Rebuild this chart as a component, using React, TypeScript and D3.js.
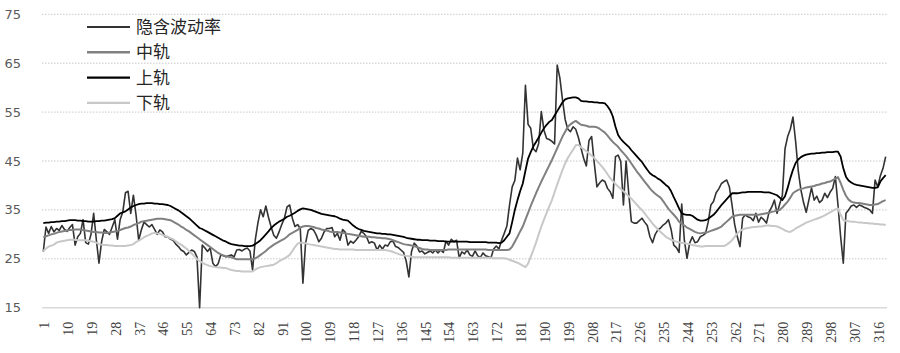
import { useEffect, useRef } from "react";
import * as d3 from "d3";

// 隐含波动率 with its band (中轨 / 上轨 / 下轨), one value per trading day
const impliedVol = [
  26.5, 31.5, 30.2, 31.6, 30.5, 31.2, 30.8, 31.8, 31.0, 30.6,
  31.4, 32.0, 27.8, 29.5, 30.2, 33.0, 28.3, 28.0, 30.0, 34.3,
  29.0, 24.1, 28.5, 31.0, 30.5, 30.0, 31.5, 33.0, 29.0, 33.0,
  34.6, 38.5, 38.8, 34.3, 38.0, 34.0, 28.8, 30.9, 32.5, 32.0,
  31.5, 32.0, 31.0, 30.0, 30.9, 30.5, 29.5, 29.5, 29.0, 28.8,
  28.0, 27.5, 26.8, 26.5, 25.8, 26.3, 26.8, 26.5, 25.4, 15.0,
  27.8, 27.2, 26.5, 27.2, 24.1, 23.4, 24.0, 25.8, 25.6, 25.4,
  25.6, 25.8, 25.4, 26.8, 26.9, 26.6, 27.0, 27.2, 26.6, 22.7,
  28.8, 32.3, 35.0, 33.6, 35.8, 33.5, 31.5, 29.8, 29.2, 30.5,
  32.0, 33.3, 35.6, 36.0, 33.3, 31.6, 32.0, 31.2, 20.0, 28.2,
  30.8, 31.2, 30.9, 29.9, 28.5, 29.2, 30.5, 31.2, 31.2, 31.4,
  29.5, 30.2, 28.8, 31.0, 30.4, 27.8, 28.6, 28.2, 28.8, 29.5,
  30.6, 30.2, 29.5, 28.2, 28.5, 28.2, 26.8, 27.8, 27.0, 27.8,
  27.6, 28.5, 28.6, 27.5, 27.3, 26.8, 26.3, 24.5, 21.3, 26.5,
  28.2, 27.6, 26.4, 26.6, 26.0, 26.3, 26.6, 26.2, 26.8, 26.2,
  26.8, 26.3, 28.6, 27.8, 29.0, 28.5, 28.8, 25.2, 26.4, 26.0,
  26.8, 25.8, 25.5, 26.6, 25.6, 25.3, 26.2, 25.6, 25.4,
  25.2, 27.0, 27.6, 27.0, 28.8, 30.2, 31.7, 36.0, 39.7, 41.0,
  45.6, 43.2, 46.6, 60.5, 52.5, 51.7, 47.5, 46.9, 48.6, 55.1,
  51.3, 49.6, 49.4, 49.0, 48.5, 64.6, 62.0, 57.5, 53.5, 51.5,
  51.0, 52.0, 51.5, 49.8, 47.6, 45.5, 44.0, 49.2, 50.0, 44.5,
  39.7, 40.5, 41.1, 40.8, 39.4, 38.7, 37.4, 45.9, 46.2, 44.9,
  36.0, 45.0, 38.4, 32.6, 32.3, 32.3, 32.8, 33.3, 32.5, 31.8,
  29.5, 28.3, 30.0, 30.9, 31.3, 31.9, 32.3, 33.0, 31.0, 27.8,
  27.3, 26.3, 36.2, 28.8, 25.1, 28.2, 29.5, 28.3, 28.5, 29.5,
  29.8, 30.2, 32.5, 36.0, 36.7, 38.5, 39.3, 40.4, 40.8, 41.1,
  39.7, 36.0, 32.0, 29.5, 27.5, 33.3, 34.0, 33.6, 33.4, 32.8,
  34.3, 32.5, 33.5, 33.0, 32.3, 34.6, 35.6, 37.0, 34.3, 36.2,
  38.0, 47.5, 50.0, 51.5, 54.0, 49.0, 43.0, 39.1, 36.5, 34.5,
  37.0, 39.5, 37.0, 37.8, 36.5, 37.0, 38.4, 37.5, 38.6, 39.4,
  41.8, 36.0, 29.5, 24.1, 34.3, 35.0, 35.8, 36.0, 35.5, 36.0,
  35.8, 35.5, 35.3, 35.0, 34.3, 41.1, 39.7, 42.0, 43.5, 45.9,
];

const midBand = [
  29.4, 29.6, 29.8, 30.0, 30.1, 30.3, 30.5, 30.6, 30.7, 30.8,
  30.9, 30.9, 31.0, 31.0, 31.0, 30.9, 30.8, 30.7, 30.6, 30.5,
  30.5, 30.4, 30.4, 30.3, 30.3, 30.4, 30.5, 30.6, 30.7, 30.9,
  31.1, 31.3, 31.4, 31.6, 31.9, 32.1, 32.3, 32.6, 32.7, 32.8,
  32.9, 33.0, 33.1, 33.2, 33.2, 33.2, 33.1, 33.0, 32.9, 32.6,
  32.3, 32.0, 31.6, 31.3, 30.9, 30.6, 30.2, 29.8, 29.4, 29.0,
  28.6, 28.2, 27.8, 27.4, 27.0, 26.6, 26.2, 25.9, 25.7, 25.5,
  25.4, 25.3, 25.1, 24.9, 24.9, 24.9, 24.9, 24.9, 24.9, 24.9,
  25.1, 25.4, 25.8, 26.2, 26.6, 27.1, 27.5, 27.9, 28.2, 28.5,
  28.8, 29.1, 29.5, 30.0, 30.3, 30.6, 30.9, 31.4, 31.6, 31.7,
  31.7, 31.6, 31.5, 31.3, 31.2, 31.0, 30.9, 30.8, 30.6, 30.5,
  30.5, 30.5, 30.4, 30.3, 30.2, 30.1, 30.0, 29.9, 29.8, 29.7,
  29.6, 29.5, 29.5, 29.5, 29.4, 29.4, 29.3, 29.3, 29.2, 29.2,
  29.1, 29.0, 28.8, 28.6, 28.4, 28.2, 28.0, 27.9, 27.8, 27.7,
  27.6, 27.4, 27.2, 27.0, 26.9, 26.9, 26.8, 26.8, 26.8, 26.8,
  26.8, 26.8, 26.8, 26.9, 26.9, 26.9, 26.9, 26.9, 26.9, 26.9,
  26.9, 26.9, 26.9, 26.9, 26.9, 26.9, 26.9, 26.9, 26.8,
  26.8, 26.8, 26.8, 26.8, 26.8, 26.8, 26.8, 26.9, 27.5, 28.5,
  29.5, 30.6, 31.6, 33.0, 34.4, 35.8, 37.1, 38.4, 39.6, 40.8,
  41.9, 43.0, 44.1, 45.2, 46.4, 47.6, 48.8, 50.0, 51.0, 52.0,
  52.5, 52.9, 53.2, 52.8, 52.4, 52.3, 52.2, 52.0, 52.0, 52.0,
  51.9, 51.6, 51.2, 50.8, 50.2, 49.5, 48.9, 48.4, 47.9, 47.2,
  46.6, 46.0, 45.3, 44.5, 43.7, 42.9, 42.2, 41.5, 40.8, 40.1,
  39.4, 38.8, 38.3, 37.9, 37.5, 36.8, 36.0, 35.2, 34.6, 34.0,
  33.4, 32.6, 32.2, 31.8, 31.4, 31.1, 30.8, 30.5, 30.3, 30.2,
  30.3, 30.4, 30.5, 30.7, 30.9, 31.1, 31.3, 31.6, 32.1, 32.6,
  33.1, 33.6, 33.8, 33.9, 34.0, 34.0, 34.0, 34.0, 34.0, 34.0,
  34.0, 34.0, 34.1, 34.2, 34.3, 34.4, 34.6, 34.7, 34.9, 35.0,
  35.5, 36.1, 36.7, 37.5, 38.4, 38.8, 39.1, 39.3, 39.4, 39.6,
  39.7, 39.8, 39.9, 40.1, 40.2, 40.4, 40.5, 40.7, 40.8, 41.1,
  41.4, 41.7, 40.5, 39.1, 37.9, 37.1, 36.7, 36.5, 36.4, 36.4,
  36.3, 36.2, 36.1, 36.0, 36.0, 36.1, 36.2, 36.5, 36.8, 37.0,
];

const upperBand = [
  32.3, 32.4, 32.4, 32.5, 32.5, 32.6, 32.6, 32.7, 32.7, 32.8,
  32.9, 32.9, 32.9, 32.8, 32.8, 32.7, 32.7, 32.6, 32.6, 32.6,
  32.7, 32.7, 32.8, 32.8, 32.9, 33.0, 33.1, 33.3, 33.8, 34.3,
  34.5, 34.7, 35.1, 35.5, 35.8, 36.0, 36.2, 36.3, 36.3, 36.4,
  36.4, 36.4, 36.3, 36.3, 36.2, 36.2, 36.1, 36.0, 35.8, 35.5,
  35.2, 34.9, 34.5, 34.1, 33.7, 33.3, 32.8, 32.3, 31.8, 31.3,
  31.1, 30.8, 30.5, 30.2, 29.9, 29.6, 29.3, 29.0, 28.7, 28.5,
  28.2, 28.0, 27.9, 27.8, 27.7, 27.7, 27.6, 27.6, 27.6, 27.7,
  28.0, 28.4, 28.8, 29.4, 30.0, 30.6, 31.3, 31.8, 32.2, 32.6,
  32.9, 33.2, 33.6, 33.8, 34.1, 34.4, 34.8, 35.1, 35.3, 35.2,
  35.1, 35.0, 34.8, 34.6, 34.4, 34.2, 34.1, 34.0, 33.9, 33.8,
  33.7, 33.5, 33.2, 33.0, 32.9, 32.8, 32.3, 31.8, 31.4, 31.1,
  30.9, 30.7, 30.6, 30.5, 30.4, 30.3, 30.2, 30.2, 30.1, 30.1,
  30.0, 30.0, 29.9, 29.8, 29.7, 29.6, 29.5, 29.3, 29.2, 29.1,
  29.0, 28.9, 28.9, 28.8, 28.8, 28.8, 28.7, 28.7, 28.7, 28.6,
  28.6, 28.6, 28.5, 28.5, 28.5, 28.5, 28.5, 28.5, 28.5, 28.5,
  28.5, 28.4, 28.4, 28.4, 28.4, 28.4, 28.4, 28.4, 28.3,
  28.3, 28.3, 28.3, 28.2, 28.3, 28.8, 29.5, 30.2, 32.5, 35.0,
  37.0, 38.8, 40.4, 43.0, 45.5, 46.8, 48.0, 48.9, 49.8, 50.8,
  51.7, 52.4, 53.0, 53.4, 54.3, 55.2, 56.1, 57.0, 57.6, 57.8,
  57.9, 58.0, 58.0, 57.8, 57.3, 57.2, 57.2, 57.1, 57.1, 57.0,
  57.0, 56.9, 56.9, 56.8, 56.2, 55.4, 54.1, 52.0, 50.3, 49.5,
  48.9, 48.4, 47.9, 47.2, 46.6, 46.0, 45.4, 44.8, 44.0, 43.2,
  42.5, 42.1, 41.8, 41.4, 41.1, 40.6, 40.1, 39.7, 38.8, 37.6,
  36.5, 35.3, 34.3, 34.1, 34.0, 34.0, 33.8, 33.4, 33.0, 32.8,
  32.8, 32.9, 33.2, 33.6, 34.0, 34.6, 35.3, 36.0, 36.6, 37.2,
  37.8, 38.4, 38.4, 38.4, 38.5, 38.6, 38.6, 38.7, 38.7, 38.7,
  38.7, 38.7, 38.7, 38.6, 38.6, 38.6, 38.4, 38.2, 38.0, 37.5,
  37.0, 37.8, 39.5, 41.5, 43.2, 44.6, 45.3, 45.8, 46.1, 46.3,
  46.4, 46.5, 46.5, 46.6, 46.6, 46.7, 46.7, 46.8, 46.8, 46.8,
  46.9, 46.9, 45.9, 43.5, 41.8, 41.0, 40.6, 40.3, 40.1, 40.0,
  39.9, 39.8, 39.7, 39.6, 39.5, 39.5, 39.6, 40.8, 41.5, 42.1,
];

const lowerBand = [
  26.6, 27.1, 27.5, 27.7, 27.9, 28.3, 28.5, 28.6, 28.7, 28.8,
  28.9, 28.9, 28.9, 28.8, 28.8, 28.8, 28.8, 28.7, 28.6, 28.5,
  28.3, 28.0, 27.9, 27.8, 27.8, 27.7, 27.7, 27.6, 27.6, 27.6,
  27.6, 27.6, 27.7, 27.8, 28.0, 28.4, 28.7, 29.0, 29.4, 29.7,
  29.9, 30.2, 30.3, 30.2, 30.1, 29.9, 29.7, 29.5, 29.2, 29.0,
  28.6, 28.2, 27.9, 27.5, 27.1, 26.6, 26.1, 25.5, 24.9, 24.5,
  24.2, 23.9, 23.7, 23.5, 23.4, 23.3, 23.2, 23.2, 23.1, 23.1,
  22.9, 22.7, 22.6, 22.5, 22.5, 22.4, 22.4, 22.4, 22.4, 22.4,
  22.8, 23.1, 23.3, 23.4, 23.5, 23.6, 23.7, 23.8, 24.1, 24.5,
  24.8, 25.1, 25.4, 25.8, 26.6, 27.4, 28.1, 28.3, 28.3, 28.2,
  28.0, 27.9, 27.8, 27.7, 27.6, 27.5, 27.4, 27.3, 27.2, 27.1,
  27.0, 27.0, 26.9, 26.9, 26.9, 26.9, 26.9, 26.9, 26.8, 26.8,
  26.8, 26.8, 26.8, 26.8, 26.8, 26.8, 26.8, 26.8, 26.8, 26.8,
  26.7, 26.6, 26.4, 26.2, 26.0, 25.8, 25.7, 25.6, 25.5, 25.4,
  25.3, 25.3, 25.3, 25.3, 25.3, 25.3, 25.3, 25.3, 25.3, 25.3,
  25.3, 25.3, 25.3, 25.3, 25.2, 25.2, 25.2, 25.2, 25.2, 25.2,
  25.2, 25.2, 25.2, 25.2, 25.2, 25.2, 25.2, 25.2, 25.2,
  25.2, 25.1, 25.1, 25.1, 25.1, 25.1, 25.0, 24.8, 24.6, 24.4,
  24.2, 23.9, 23.6, 23.3, 24.0, 25.4, 26.8, 28.3, 30.0, 31.6,
  33.0, 34.4, 35.7, 37.0, 38.6, 40.2, 41.7, 43.2, 44.5, 45.6,
  46.5, 47.3, 48.2, 48.3, 47.8, 47.4, 47.0, 46.6, 46.1, 45.6,
  45.0, 44.4, 43.8, 43.1, 42.3, 41.5, 40.9, 40.3, 39.8, 39.3,
  38.8, 38.3, 37.8, 37.3, 36.7, 36.1, 35.5, 35.0, 34.3, 33.6,
  32.9, 32.2, 31.6, 31.0, 30.5, 30.0, 29.5, 29.2, 28.9, 28.7,
  28.5, 28.4, 28.3, 28.2, 28.1, 28.0, 27.8, 27.7, 27.6, 27.5,
  27.5, 27.6, 27.6, 27.6, 27.6, 27.6, 27.6, 27.6, 27.6, 27.9,
  28.3, 28.8, 29.5, 30.2, 30.7, 31.0, 31.2, 31.3, 31.4, 31.5,
  31.5, 31.6, 31.6, 31.7, 31.8, 31.8, 31.7, 31.7, 31.6, 31.4,
  31.1, 30.8, 30.6, 30.5, 30.8, 31.2, 31.5, 31.8, 32.1, 32.4,
  32.6, 32.8, 33.0, 33.2, 33.4, 33.6, 33.9, 34.2, 34.5, 34.8,
  35.1, 35.3, 34.0, 32.9, 32.8, 32.7, 32.6, 32.6, 32.5, 32.4,
  32.4, 32.3, 32.3, 32.2, 32.2, 32.1, 32.1, 32.0, 32.0, 31.9,
];

const categories = d3.range(1, impliedVol.length + 1);
const tickLabels = [
  1, 10, 19, 28, 37, 46, 55, 64, 73, 82, 91, 100, 109, 118, 127, 136, 145, 154,
  163, 172, 181, 190, 199, 208, 217, 226, 235, 244, 253, 262, 271, 280, 289, 298,
  307, 316,
];
const yTicks = [15, 25, 35, 45, 55, 65, 75];

const series = [
  { name: "隐含波动率", values: impliedVol, color: "#333333", width: 1.6 },
  { name: "中轨", values: midBand, color: "#808080", width: 2 },
  { name: "上轨", values: upperBand, color: "#000000", width: 1.8 },
  { name: "下轨", values: lowerBand, color: "#c8c8c8", width: 2 },
];

export default function App() {
  const svgRef = useRef<SVGSVGElement | null>(null);

  useEffect(() => {
    const width = 900;
    const height = 353;
    const plot = { left: 42, right: 887, top: 14.3, bottom: 307.7 };

    const x = d3
      .scaleBand<number>()
      .domain(categories)
      .range([plot.left, plot.right]);
    const cx = (c: number) => (x(c) ?? 0) + x.bandwidth() / 2;
    const y = d3.scaleLinear().domain([15, 75]).range([plot.bottom, plot.top]);

    const svg = d3
      .select(svgRef.current)
      .attr("width", width)
      .attr("height", height)
      .html("");

    svg
      .append("rect")
      .attr("width", width)
      .attr("height", height)
      .attr("fill", "white");

    // gridlines: dotted, solid one at the bottom
    svg
      .append("g")
      .selectAll("line")
      .data(yTicks)
      .join("line")
      .attr("x1", plot.left)
      .attr("x2", plot.right)
      .attr("y1", (d) => y(d))
      .attr("y2", (d) => y(d))
      .attr("stroke", (d) => (d === 15 ? "#d9d9d9" : "#c8c8c8"))
      .attr("stroke-width", (d) => (d === 15 ? 1.5 : 1))
      .attr("stroke-dasharray", (d) => (d === 15 ? null : "1.5,1.5"));

    svg
      .append("g")
      .selectAll("text")
      .data(yTicks)
      .join("text")
      .attr("x", 21)
      .attr("y", (d) => y(d))
      .attr("dy", "0.35em")
      .attr("text-anchor", "end")
      .attr("font-family", "'DejaVu Sans', sans-serif")
      .attr("font-size", 13)
      .attr("fill", "#595959")
      .text((d) => d);

    svg
      .append("g")
      .selectAll("text")
      .data(tickLabels)
      .join("text")
      .attr(
        "transform",
        (d) => `translate(${cx(d) + 1.1},${plot.bottom + 14}) rotate(-90)`,
      )
      .attr("dy", "0.34em")
      .attr("text-anchor", "end")
      .attr("font-family", "'Liberation Serif', serif")
      .attr("font-size", 14)
      .attr("fill", "#404040")
      .text((d) => d);

    const line = d3
      .line<number>()
      .x((_, i) => cx(categories[i]))
      .y((d) => y(d));

    svg
      .append("g")
      .selectAll("path")
      .data(series)
      .join("path")
      .attr("d", (s) => line(s.values))
      .attr("fill", "none")
      .attr("stroke", (s) => s.color)
      .attr("stroke-width", (s) => s.width)
      .attr("stroke-linejoin", "round");

    const legend = svg
      .append("g")
      .selectAll("g")
      .data(series)
      .join("g")
      .attr("transform", (_, i) => `translate(87,${27 + i * 25.3})`);

    legend
      .append("line")
      .attr("x1", 0)
      .attr("x2", 43)
      .attr("stroke", (s) => s.color)
      .attr("stroke-width", (s) => s.width + 0.4);

    legend
      .append("text")
      .attr("x", 49)
      .attr("dy", "0.36em")
      .attr("font-family", "'Noto Sans CJK SC', sans-serif")
      .attr("font-size", 17)
      .attr("fill", "#262626")
      .text((s) => s.name);
  }, []);

  return (
    <div style={{ position: "absolute", left: 0, top: 0 }}>
      <svg ref={svgRef} style={{ display: "block" }}></svg>
    </div>
  );
}
